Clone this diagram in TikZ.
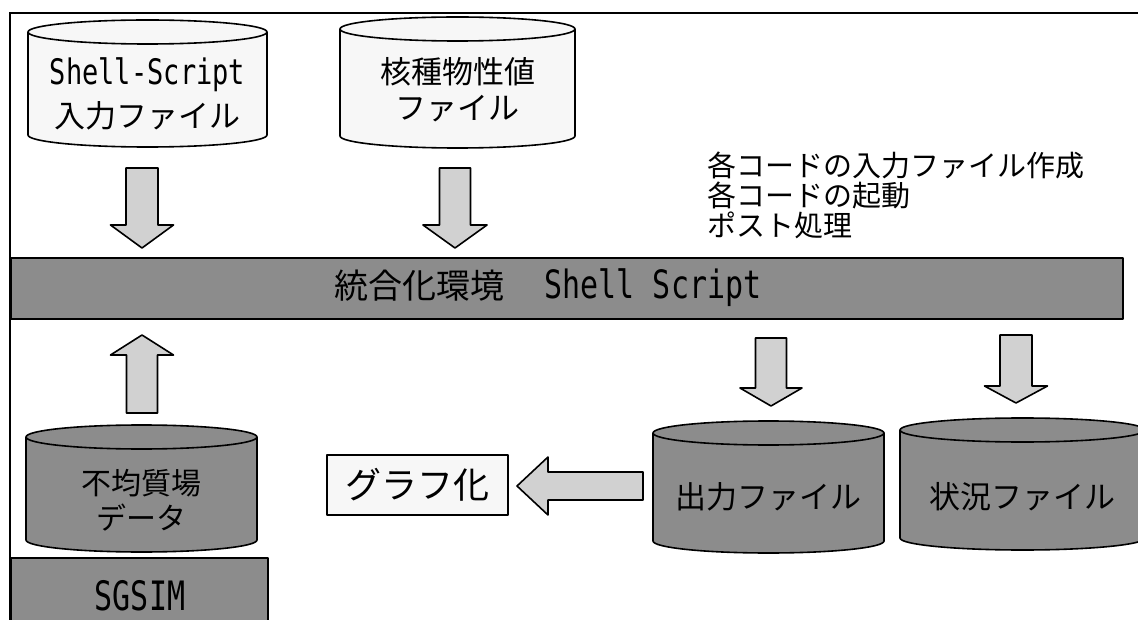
\documentclass[tikz,border=0pt]{standalone}
\usepackage{fontspec}
\newfontfamily\cjk{Noto Sans CJK JP}
\newfontfamily\mono{DejaVu Sans Mono}
\definecolor{darkfill}{gray}{0.55}
\definecolor{lightfill}{gray}{0.97}
\definecolor{arrowfill}{gray}{0.82}
\tikzset{
  ln/.style={line width=1.6pt, line join=round},
  drumlight/.style={ln, draw=black, fill=lightfill},
  drumdark/.style={ln, draw=black, fill=darkfill},
  blockarrow/.style={ln, draw=black, fill=arrowfill},
  label/.style={inner sep=0pt, align=center, text=black},
}
% drum: name, xl, xr, ytop, ybot, style, text-y, font, text   (ry = 12)
\newcommand\drum[9]{%
  \pgfmathsetmacro\dcx{(#2+#3)/2}%
  \pgfmathsetmacro\drx{(#3-#2)/2}%
  \pgfmathsetmacro\dya{-(#4)-12}%
  \pgfmathsetmacro\dyb{-(#5)+12}%
  \path[#6] (#2,\dya) -- (#2,\dyb)
     arc[start angle=180,end angle=360,x radius=\drx pt,y radius=12pt]
     -- (#3,\dya)
     arc[start angle=0,end angle=180,x radius=\drx pt,y radius=12pt] -- cycle;
  \draw[ln] (#2,\dya) arc[start angle=180,end angle=360,x radius=\drx pt,y radius=12pt];
  \node[label, font={#8}] (#1) at (\dcx,-#7) {#9};%
}
% block arrow: name, cx, cy, angle, length, shaft half, head half, head length
\newcommand\barrow[8]{%
  \begin{scope}[shift={(#2,#3)}, rotate=#4]
    \path[blockarrow] (-#5/2,-#6) -- (#5/2-#8,-#6) -- (#5/2-#8,-#7) -- (#5/2,0)
       -- (#5/2-#8,#7) -- (#5/2-#8,#6) -- (-#5/2,#6) -- cycle;
  \end{scope}
  \node[coordinate] (#1) at (#2,#3) {};%
}
\newcommand\mt[2]{{\mono\fontsize{#1}{#1}\selectfont\scalebox{1}[1.3]{#2}}}
\begin{document}
\begin{tikzpicture}[x=1pt,y=1pt]
\useasboundingbox (0,0) rectangle (1138,-620);
\clip (0,0) rectangle (1138,-620);
% frame
\draw[line width=2pt] (10,-630) -- (10,-13) -- (1150,-13);

% top drums
\drum{shin}{28}{267}{20}{147}{drumlight}{93.5}{\cjk\fontsize{31}{43}\selectfont}%
  {\mt{27}{Shell-Script}\\入力ファイル}
\drum{nuc}{340}{575}{17}{148}{drumlight}{90}{\cjk\fontsize{31}{36}\selectfont}%
  {核種物性値\\ファイル}

% arrows into bar
\barrow{a1}{142}{-208}{-90}{80}{16}{31.5}{23}
\barrow{a2}{455}{-208}{-90}{80}{15.5}{32}{23}

% notes
\node[label, align=left, anchor=west, font=\cjk\fontsize{29}{30}\selectfont] (note) at (707,-195)
  {各コードの入力ファイル作成\\各コードの起動\\ポスト処理};

% main bar
\draw[ln, fill=darkfill] (11,-258) rectangle (1123,-319);
\node[label, font=\cjk\fontsize{34}{34}\selectfont] (bar) at (548,-288)
  {統合化環境\hspace{40pt}\mt{30}{Shell Script}};

% up arrow from field data
\barrow{a3}{142}{-374}{90}{78}{15.5}{31.5}{20}

% field data drum
\drum{field}{26}{257}{425}{552}{drumdark}{500.5}{\cjk\fontsize{30}{35}\selectfont}%
  {不均質場\\データ}

% SGSIM
\draw[ln, fill=darkfill] (11,-558) rectangle (268,-630);
\node[label] (sgsim) at (140,-596) {\mono\fontsize{30}{30}\selectfont\scalebox{1}[1.35]{SGSIM}};

% output arrows
\barrow{a4}{771}{-372}{-90}{68}{15.5}{31}{18}
\barrow{a5}{1016}{-369}{-90}{68}{16}{31.5}{17}

% output drums
\drum{out}{653}{884}{421}{553}{drumdark}{497}{\cjk\fontsize{31}{31}\selectfont}%
  {出力ファイル}
\drum{stat}{900}{1145}{418}{550}{drumdark}{497}{\cjk\fontsize{31}{31}\selectfont}%
  {状況ファイル}

% graph box
\node[ln, draw, fill=lightfill, minimum width=181pt, minimum height=60pt, inner sep=0pt,
      font=\cjk\fontsize{36}{36}\selectfont] (graph) at (417.5,-485) {グラフ化};

% left arrow
\barrow{a6}{580}{-486}{180}{126}{14}{29}{31}
\end{tikzpicture}
\end{document}
